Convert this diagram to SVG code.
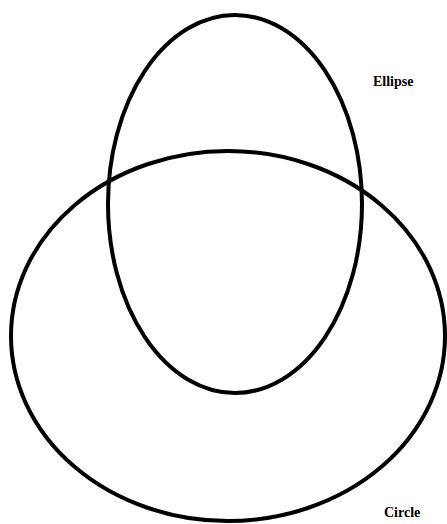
<svg xmlns="http://www.w3.org/2000/svg" width="447" height="524" viewBox="0 0 447 524">
<style>
.shape{fill:none;stroke:#000;stroke-width:4}
.lbl{font-family:"Liberation Serif",serif;font-weight:bold;font-size:14px;fill:#000}
</style>
<rect width="447" height="524" fill="#fff"/>
<g id="circle">
<ellipse class="shape" cx="228" cy="336" rx="217" ry="185"/>
<text class="lbl" x="384" y="517">Circle</text>
</g>
<g id="ellipse">
<ellipse class="shape" cx="235" cy="204" rx="127" ry="189"/>
<text class="lbl" x="373" y="86">Ellipse</text>
</g>
<g id="connectors"></g>
</svg>
